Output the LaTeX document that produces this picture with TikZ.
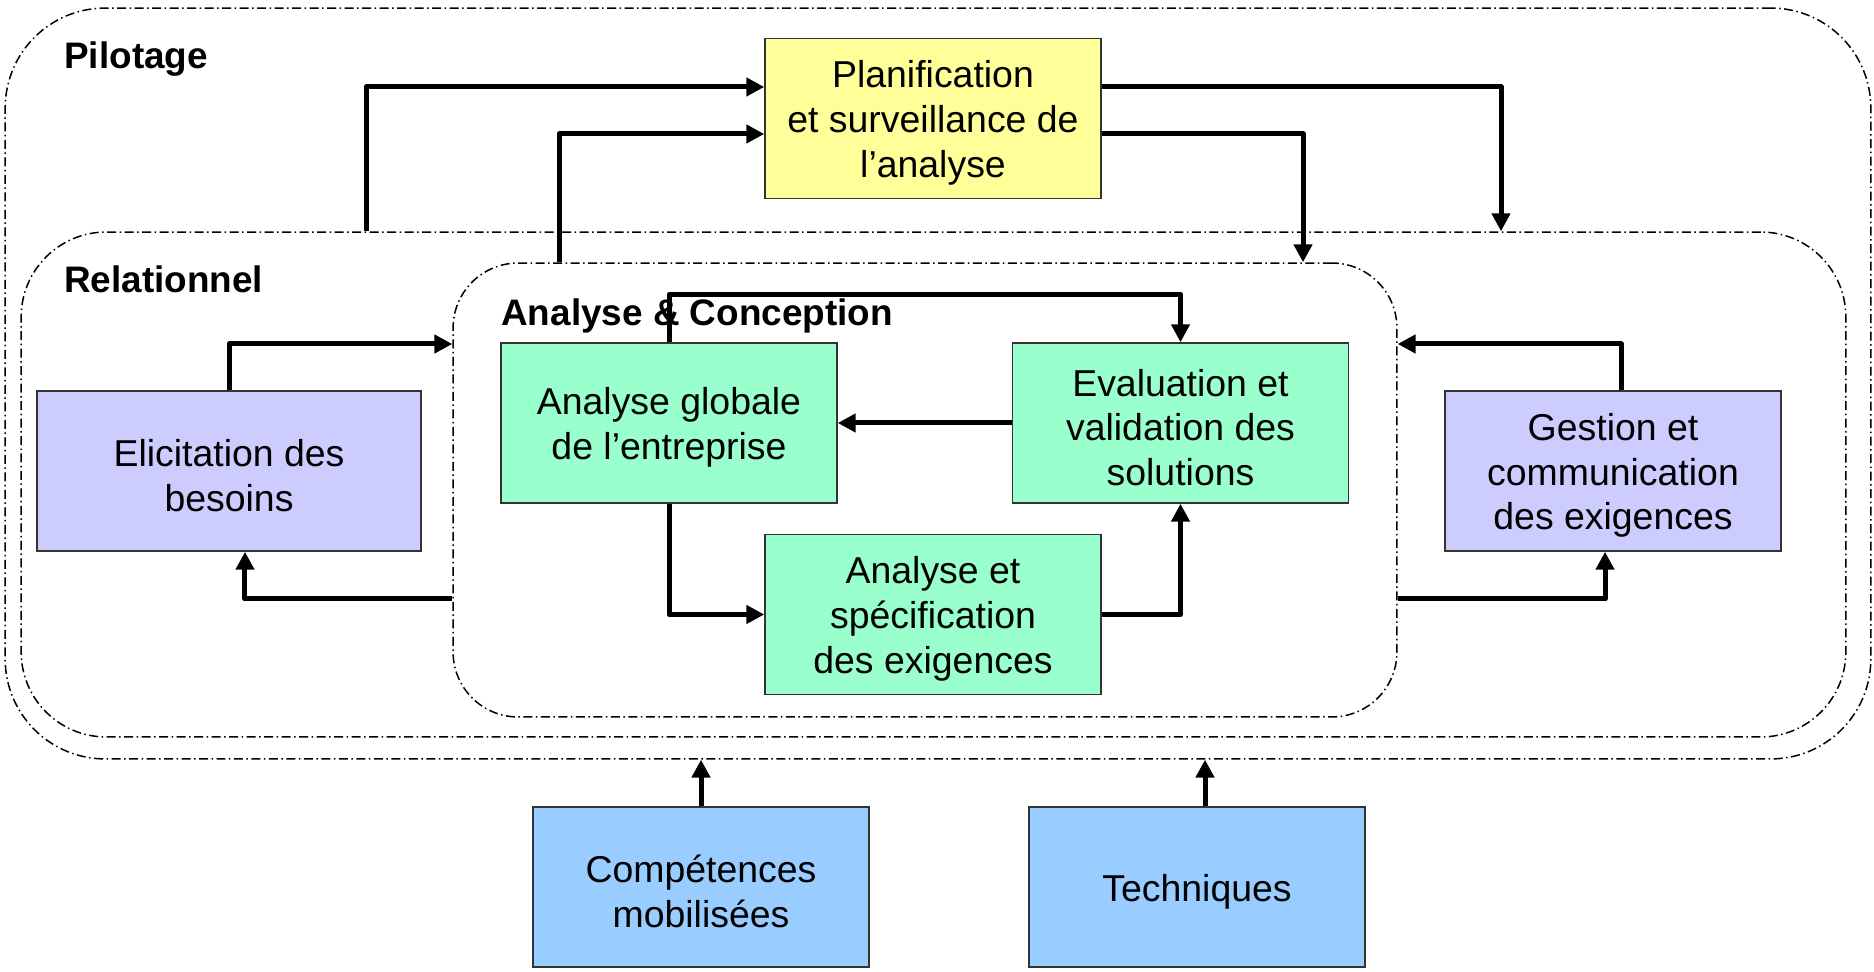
\documentclass[tikz,border=0pt]{standalone}
\usepackage{fontspec}
\setmainfont{Liberation Sans}
\usetikzlibrary{arrows.meta}
\definecolor{cyel}{RGB}{255,255,153}
\definecolor{cgrn}{RGB}{153,255,204}
\definecolor{clav}{RGB}{204,204,255}
\definecolor{cblu}{RGB}{153,204,255}
\newcommand{\fstrut}{\rule{0pt}{20.5pt}}
\begin{document}
\begin{tikzpicture}[x=0.02cm,y=-0.02cm,
 region/.style={draw, line width=0.03cm, dash pattern=on 0.18cm off 0.07cm on 0.03cm off 0.07cm, rectangle, inner sep=0pt},
 box/.style={draw=black!80, line width=0.03cm, minimum width=6.72cm, minimum height=3.2cm, align=center, inner sep=0pt, font=\fontsize{21.3}{25.5}\selectfont},
 lab/.style={anchor=base west, font=\bfseries\fontsize{21}{25}\selectfont, inner sep=0pt},
 arr/.style={line width=0.1cm, line join=round, -{Triangle[width=0.36cm,length=0.36cm]}}]
\useasboundingbox (0,0) rectangle (1874,972);

% regions
\node[region, rounded corners=2cm, minimum width=37.32cm, minimum height=15.02cm] (pil) at (938,383.5) {};
\node[region, rounded corners=1.7cm, minimum width=36.5cm, minimum height=10.1cm] (rel) at (933.5,484.5) {};
\node[region, rounded corners=1.3cm, minimum width=18.88cm, minimum height=9.08cm] (ac) at (925,490) {};

% labels
\node[lab] (lp) at (64,69) {Pilotage};
\node[lab] (lr) at (64,293) {Relationnel};
\node[lab] (la) at (501,326) {Analyse \& Conception};

% boxes
\node[box, fill=cyel] (plan) at (933,118.5) {\fstrut Planification\\et surveillance de\\l’analyse};
\node[box, fill=clav, minimum width=7.68cm] (eli) at (229,471) {\fstrut Elicitation des\\besoins};
\node[box, fill=clav] (gest) at (1613,471) {\fstrut Gestion et\\communication\\des exigences};
\node[box, fill=cgrn] (ag) at (669,423) {\fstrut Analyse globale\\de l’entreprise};
\node[box, fill=cgrn] (ev) at (1180.5,423) {\fstrut Evaluation et\\validation des\\solutions};
\node[box, fill=cgrn] (as) at (933,614.5) {\fstrut Analyse et\\spécification\\des exigences};
\node[box, fill=cblu] (comp) at (701,887) {\fstrut Compétences\\mobilisées};
\node[box, fill=cblu] (tech) at (1197,887) {\fstrut Techniques};

% helper coordinates
\coordinate (r1) at (366,0);
\coordinate (r2) at (559,0);
\coordinate (r3) at (1501,0);
\coordinate (r4) at (1303,0);
\coordinate (r5) at (0,344);
\coordinate (r6) at (0,599);
\coordinate (t1) at ([xshift=0.16cm]tech.north);

% connectors
\draw[arr] (r1 |- rel.north) |- ([yshift=0.63cm]plan.west);
\draw[arr] (r2 |- ac.north) |- ([yshift=-0.31cm]plan.west);
\draw[arr] ([yshift=0.63cm]plan.east) -| (r3 |- rel.north);
\draw[arr] ([yshift=-0.31cm]plan.east) -| (r4 |- ac.north);
\draw[arr] (eli.north) |- (r5 -| ac.west);
\draw[arr] (r6 -| ac.west) -| ([xshift=0.32cm]eli.south);
\draw[arr] ([xshift=0.16cm]gest.north) |- (r5 -| ac.east);
\draw[arr] (r6 -| ac.east) -| ([xshift=-0.16cm]gest.south);
\draw[arr] (ag.north) -- ++(0,-48) -| (ev.north);
\draw[arr] (ev.west) -- (ag.east);
\draw[arr] (ag.south) |- (as.west);
\draw[arr] (as.east) -| (ev.south);
\draw[arr] (comp.north) -- (comp.north |- pil.south);
\draw[arr] (t1) -- (t1 |- pil.south);
\end{tikzpicture}
\end{document}
